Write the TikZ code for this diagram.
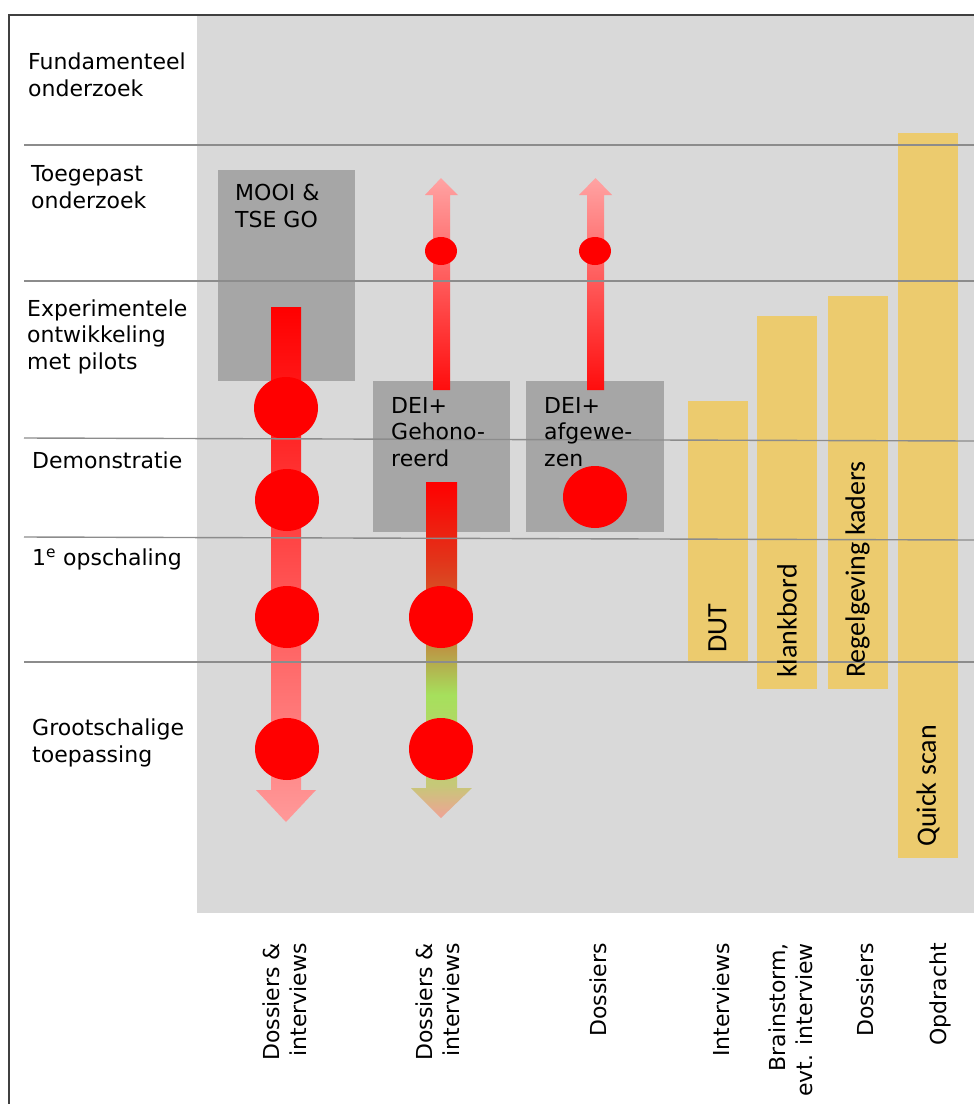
\documentclass[tikz,border=0pt]{standalone}
\usepackage{fontspec}
\setmainfont{DejaVu Sans}
\newfontfamily\balkfont{Carlito}
\usetikzlibrary{shapes.geometric}

\definecolor{achtergrond}{RGB}{217,217,217}
\definecolor{blokgrijs}{RGB}{166,166,166}
\definecolor{balkgeel}{RGB}{236,203,110}
\definecolor{lijngrijs}{RGB}{140,140,140}
\definecolor{pijlroze}{RGB}{255,153,153}
\definecolor{oranjerood}{RGB}{226,52,26}
\definecolor{bruinoranje}{RGB}{206,104,46}
\definecolor{olijf}{RGB}{182,168,76}
\definecolor{lichtgroen}{RGB}{166,224,92}
\definecolor{geelgroen}{RGB}{198,200,120}
\definecolor{tipzalm}{RGB}{240,162,150}

% verloop van de gehonoreerde pijl
\pgfdeclareverticalshading{dalend}{100bp}{color(0bp)=(tipzalm); color(25bp)=(tipzalm);
  color(29.9bp)=(geelgroen); color(43.3bp)=(lichtgroen); color(48.5bp)=(olijf);
  color(54.5bp)=(bruinoranje); color(63.4bp)=(oranjerood); color(75bp)=(red); color(100bp)=(red)}

\begin{document}
\begin{tikzpicture}[x=1pt, y=-1pt,
        every node/.style={font=\fontsize{22}{26.5}\selectfont, inner sep=0pt},
        fase/.style={anchor=base west, align=left},
        blok/.style={fill=blokgrijs, anchor=north west},
        balk/.style={fill=balkgeel, anchor=north west, minimum width=60},
        balktekst/.style={rotate=90, anchor=west, font=\balkfont\fontsize{28}{32}\selectfont},
        methode/.style={rotate=90, anchor=east, align=right},
        bol/.style={ellipse, fill=red, minimum width=64, minimum height=62},
        bolletje/.style={ellipse, fill=red, minimum width=32, minimum height=28},
        niveau/.style={draw=lijngrijs, line width=1.4pt}
    ]
    \useasboundingbox (0,0) rectangle (974,1104);

    % Achtergrond
    \fill[achtergrond] (197,16) rectangle (974,913);
    \draw[black!75, line width=2pt] (9,1104) -- (9,15) -- (974,15);

    % Blokken
    \node[blok, minimum width=137, minimum height=211] (mooi) at (218,170) {};
    \node[blok, minimum width=137, minimum height=151] (gehonoreerd) at (373,381) {};
    \node[blok, minimum width=138, minimum height=151] (afgewezen) at (526,381) {};

    % Balken
    \node[balk, minimum height=261] (dut) at (688,401) {};
    \node[balk, minimum height=373] (klankbord) at (757,316) {};
    \node[balk, minimum height=393] (regelgeving) at (828,296) {};
    \node[balk, minimum height=725] (quickscan) at (898,133) {};

    % Pijlen
    \shade[top color=red, bottom color=pijlroze]
        (271,307) -- (301,307) -- (301,790) -- (316,790) -- (286,822) -- (256,790) -- (271,790) -- cycle;
    \shade[shading=dalend]
        (426,482) -- (457,482) -- (457,788) -- (472,788) -- (441,818) -- (411,788) -- (426,788) -- cycle;
    \shade[top color=pijlroze!90!white, bottom color=red!95!white]
        (433,390) -- (450,390) -- (450,195) -- (458,195) -- (441,178) -- (425,195) -- (433,195) -- cycle;
    \shade[top color=pijlroze!90!white, bottom color=red!95!white]
        (587,390) -- (604,390) -- (604,195) -- (612,195) -- (595.5,178) -- (579,195) -- (587,195) -- cycle;

    % Bollen
    \node[bol] (bol1a) at (286,408) {};
    \node[bol] (bol1b) at (287,500) {};
    \node[bol] (bol1c) at (287,617) {};
    \node[bol] (bol1d) at (287,749) {};
    \node[bol] (bol2a) at (441,617) {};
    \node[bol] (bol2b) at (441,749) {};
    \node[bol] (bol3) at (595,497) {};
    \node[bolletje] (bolletje2) at (441,251) {};
    \node[bolletje] (bolletje3) at (595,251) {};

    % Niveaulijnen
    \draw[niveau] (24,145) -- (974,145);
    \draw[niveau] (24,281) -- (974,281);
    \draw[niveau] (24,438) -- (974,441);
    \draw[niveau] (24,537) -- (974,540);
    \draw[niveau] (24,662) -- (974,662);

    % Fasen
    \node[fase] (fundamenteel) at (28,96) {Fundamenteel\\onderzoek};
    \node[fase] (toegepast) at (31,208) {Toegepast\\onderzoek};
    \node[fase] (experimenteel) at (27,369) {Experimentele\\ontwikkeling\\met pilots};
    \node[fase] (demonstratie) at (32,468) {Demonstratie};
    \node[fase] (opschaling) at (32,565) {1\textsuperscript{e} opschaling};
    \node[fase] (grootschalig) at (32,762) {Grootschalige\\toepassing};

    % Teksten in de blokken
    \node[fase] (mooitekst) at (235,227) {MOOI \&\\TSE GO};
    \node[fase] (gehonoreerdtekst) at (391,466) {DEI+\\Gehono-\\reerd};
    \node[fase] (afgewezentekst) at (544,466) {DEI+\\afgewe-\\zen};

    % Teksten in de balken
    \node[balktekst] (duttekst) at (717.5,653) {DUT};
    \node[balktekst] (klankbordtekst) at (787,678) {klankbord};
    \node[balktekst] (regelgevingtekst) at (857.5,678) {Regelgeving kaders};
    \node[balktekst] (quickscantekst) at (928,847) {Quick scan};

    % Methoden
    \node[methode] (methode1) at (285,943) {Dossiers \&\\interviews};
    \node[methode] (methode2) at (438,943) {Dossiers \&\\interviews};
    \node[methode] (methode3) at (598,943) {Dossiers};
    \node[methode] (methode4) at (721,943) {Interviews};
    \node[methode] (methode5) at (791,943) {Brainstorm,\\evt. interview};
    \node[methode] (methode6) at (865,943) {Dossiers};
    \node[methode] (methode7) at (940,943) {Opdracht};
\end{tikzpicture}
\end{document}
